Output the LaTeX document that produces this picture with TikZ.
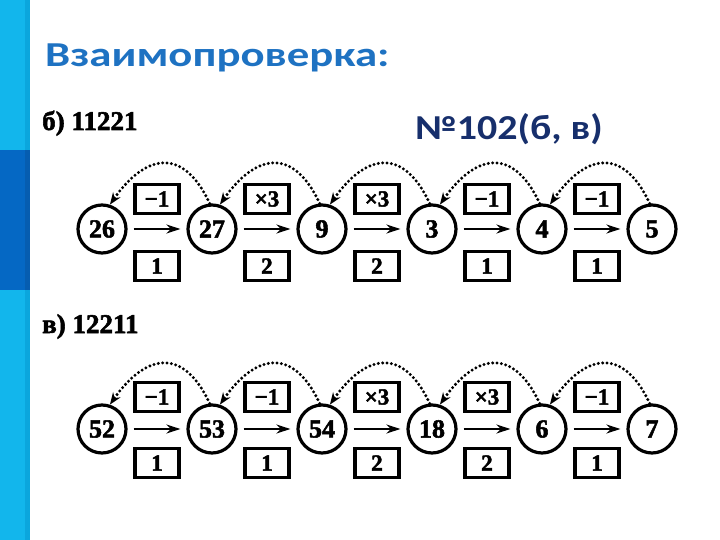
\documentclass[tikz,border=0pt]{standalone}
\usepackage{fontspec}
\setmainfont{Liberation Serif}[BoldFeatures={FakeBold=2}]
\newfontfamily\titlefont{Carlito}
\usetikzlibrary{arrows.meta,positioning,calc}
\definecolor{barlight}{HTML}{12B6EC}
\definecolor{barlightedge}{HTML}{0BA6DD}
\definecolor{bardark}{HTML}{0568C4}
\definecolor{bardarkedge}{HTML}{065DB0}
\definecolor{titleblue}{HTML}{1E72C2}
\definecolor{numnavy}{HTML}{172F6C}

\tikzset{
  numcircle/.style={circle,draw,line width=3.2pt,minimum size=48pt,inner sep=0pt,
                    font=\bfseries\fontsize{26}{26}\selectfont},
  opbox/.style={draw,line width=3.2pt,minimum width=44pt,minimum height=29pt,inner sep=0pt,
                font=\bfseries\fontsize{23}{23}\selectfont},
  rowlabel/.style={anchor=base west,inner sep=0pt,font=\bfseries\fontsize{27}{27}\selectfont},
  flowarrow/.style={line width=2.6pt,-{Stealth[length=14pt,width=9pt]},shorten <=6pt,shorten >=6pt},
  backarc/.style={line width=3.3pt,dash pattern=on 0pt off 4.4pt,line cap=round,
                  -{Stealth[length=12pt,width=9pt]}}
}

\begin{document}
\begin{tikzpicture}[x=1pt,y=1pt,node distance=110pt,on grid]
  \useasboundingbox (0,0) rectangle (720,-540);
  % side bar
  \fill[barlight] (0,0) rectangle (30,-540);
  \fill[barlightedge] (25,0) rectangle (30,-540);
  \fill[bardark] (0,-150) rectangle (30,-290);
  \fill[bardarkedge] (25,-150) rectangle (30,-290);

  \node[anchor=base west,inner sep=0pt,text=titleblue,
        font=\titlefont\bfseries\fontsize{35}{35}\selectfont] (title) at (45,-67)
    {\scalebox{1.28}[1]{Взаимопроверка:}};
  \node[anchor=base west,inner sep=0pt,text=numnavy,
        font=\titlefont\bfseries\fontsize{35}{35}\selectfont] (task) at (415,-140)
    {\scalebox{1.14}[1]{№102(б, в)}};

  % б) 11221
  \node[rowlabel] (lb) at (42,-130) {б) 11221};
  \node[numcircle] (c26) at (102,-229) {26};
  \node[numcircle,right=of c26] (c27) {27};
  \node[numcircle,right=of c27] (c9) {9};
  \node[numcircle,right=of c9] (c3) {3};
  \node[numcircle,right=of c3] (c4) {4};
  \node[numcircle,right=of c4] (c5) {5};

  \node[opbox] (t1) at ($(c26)!.5!(c27)+(0,30)$) {−1};
  \node[opbox] (t2) at ($(c27)!.5!(c9)+(0,30)$) {×3};
  \node[opbox] (t3) at ($(c9)!.5!(c3)+(0,30)$) {×3};
  \node[opbox] (t4) at ($(c3)!.5!(c4)+(0,30)$) {−1};
  \node[opbox] (t5) at ($(c4)!.5!(c5)+(0,30)$) {−1};
  \node[opbox] (b1) at ($(c26)!.5!(c27)+(0,-37)$) {1};
  \node[opbox] (b2) at ($(c27)!.5!(c9)+(0,-37)$) {2};
  \node[opbox] (b3) at ($(c9)!.5!(c3)+(0,-37)$) {2};
  \node[opbox] (b4) at ($(c3)!.5!(c4)+(0,-37)$) {1};
  \node[opbox] (b5) at ($(c4)!.5!(c5)+(0,-37)$) {1};

  \draw[flowarrow] (c26) -- (c27);
  \draw[flowarrow] (c27) -- (c9);
  \draw[flowarrow] (c9) -- (c3);
  \draw[flowarrow] (c3) -- (c4);
  \draw[flowarrow] (c4) -- (c5);

  \draw[backarc] (c27.95) to[out=115,in=55,looseness=1.6] (c26.72);
  \draw[backarc] (c9.95) to[out=115,in=55,looseness=1.6] (c27.72);
  \draw[backarc] (c3.95) to[out=115,in=55,looseness=1.6] (c9.72);
  \draw[backarc] (c4.95) to[out=115,in=55,looseness=1.6] (c3.72);
  \draw[backarc] (c5.95) to[out=115,in=55,looseness=1.6] (c4.72);

  % в) 12211
  \node[rowlabel] (lv) at (42,-333) {в) 12211};
  \node[numcircle] (c52) at (102,-429) {52};
  \node[numcircle,right=of c52] (c53) {53};
  \node[numcircle,right=of c53] (c54) {54};
  \node[numcircle,right=of c54] (c18) {18};
  \node[numcircle,right=of c18] (c6) {6};
  \node[numcircle,right=of c6] (c7) {7};

  \node[opbox] (t6) at ($(c52)!.5!(c53)+(0,32)$) {−1};
  \node[opbox] (t7) at ($(c53)!.5!(c54)+(0,32)$) {−1};
  \node[opbox] (t8) at ($(c54)!.5!(c18)+(0,32)$) {×3};
  \node[opbox] (t9) at ($(c18)!.5!(c6)+(0,32)$) {×3};
  \node[opbox] (t10) at ($(c6)!.5!(c7)+(0,32)$) {−1};
  \node[opbox] (b6) at ($(c52)!.5!(c53)+(0,-34)$) {1};
  \node[opbox] (b7) at ($(c53)!.5!(c54)+(0,-34)$) {1};
  \node[opbox] (b8) at ($(c54)!.5!(c18)+(0,-34)$) {2};
  \node[opbox] (b9) at ($(c18)!.5!(c6)+(0,-34)$) {2};
  \node[opbox] (b10) at ($(c6)!.5!(c7)+(0,-34)$) {1};

  \draw[flowarrow] (c52) -- (c53);
  \draw[flowarrow] (c53) -- (c54);
  \draw[flowarrow] (c54) -- (c18);
  \draw[flowarrow] (c18) -- (c6);
  \draw[flowarrow] (c6) -- (c7);

  \draw[backarc] (c53.95) to[out=115,in=55,looseness=1.6] (c52.72);
  \draw[backarc] (c54.95) to[out=115,in=55,looseness=1.6] (c53.72);
  \draw[backarc] (c18.95) to[out=115,in=55,looseness=1.6] (c54.72);
  \draw[backarc] (c6.95) to[out=115,in=55,looseness=1.6] (c18.72);
  \draw[backarc] (c7.95) to[out=115,in=55,looseness=1.6] (c6.72);
\end{tikzpicture}
\end{document}
